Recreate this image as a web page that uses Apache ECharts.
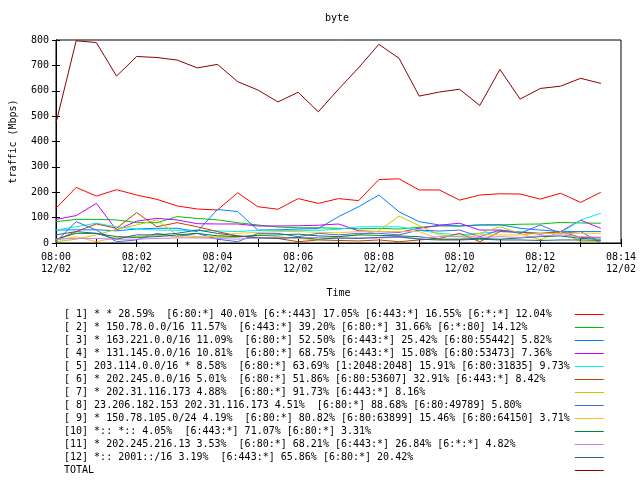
<!DOCTYPE html>
<html>
<head>
<meta charset="utf-8">
<script src="https://cdn.jsdelivr.net/npm/echarts@6/dist/echarts.min.js"></script>
<style>
  html, body { margin: 0; padding: 0; background: #fff; }
  #main { width: 640px; height: 480px; }
</style>
</head>
<body>
<div id="main"></div>
<script>
var FONT = 'DejaVu Sans Mono';

var times = ['08:00:00', '08:00:30', '08:01:00', '08:01:30', '08:02:00', '08:02:30', '08:03:00',
	'08:03:30', '08:04:00', '08:04:30', '08:05:00', '08:05:30', '08:06:00', '08:06:30',
	'08:07:00', '08:07:30', '08:08:00', '08:08:30', '08:09:00', '08:09:30', '08:10:00',
	'08:10:30', '08:11:00', '08:11:30', '08:12:00', '08:12:30', '08:13:00', '08:13:30'];

var names = [
	'[ 1] * * 28.59%  [6:80:*] 40.01% [6:*:443] 17.05% [6:443:*] 16.55% [6:*:*] 12.04%',
	'[ 2] * 150.78.0.0/16 11.57%  [6:443:*] 39.20% [6:80:*] 31.66% [6:*:80] 14.12%',
	'[ 3] * 163.221.0.0/16 11.09%  [6:80:*] 52.50% [6:443:*] 25.42% [6:80:55442] 5.82%',
	'[ 4] * 131.145.0.0/16 10.81%  [6:80:*] 68.75% [6:443:*] 15.08% [6:80:53473] 7.36%',
	'[ 5] 203.114.0.0/16 * 8.58%  [6:80:*] 63.69% [1:2048:2048] 15.91% [6:80:31835] 9.73%',
	'[ 6] * 202.245.0.0/16 5.01%  [6:80:*] 51.86% [6:80:53607] 32.91% [6:443:*] 8.42%',
	'[ 7] * 202.31.116.173 4.88%  [6:80:*] 91.73% [6:443:*] 8.16%',
	'[ 8] 23.206.182.153 202.31.116.173 4.51%  [6:80:*] 88.68% [6:80:49789] 5.80%',
	'[ 9] * 150.78.105.0/24 4.19%  [6:80:*] 80.82% [6:80:63899] 15.46% [6:80:64150] 3.71%',
	'[10] *:: *:: 4.05%  [6:443:*] 71.07% [6:80:*] 3.31%',
	'[11] * 202.245.216.13 3.53%  [6:80:*] 68.21% [6:443:*] 26.84% [6:*:*] 4.82%',
	'[12] *:: 2001::/16 3.19%  [6:443:*] 65.86% [6:80:*] 20.42%',
	'TOTAL'
];

var colors = ['#ff0000', '#00c000', '#0080ff', '#c000ff', '#00eeee', '#c04000', '#c8c800',
	'#4169e1', '#ffc020', '#008040', '#c080ff', '#306080', '#8b0000'];

// Mbps, one value per 30 s
var s1 = [137, 219, 185, 210, 189, 172, 146, 134, 130, 198, 143, 133, 175, 156, 175, 167, 250, 253, 209, 209, 169, 189, 194, 193, 173, 196, 160, 200];
var s2 = [84, 93, 93, 91, 80, 80, 104, 97, 91, 80, 71, 63, 60, 60, 58, 56, 58, 55, 62, 67, 67, 71, 71, 74, 75, 81, 79, 78];
var s3 = [51, 52, 52, 48, 55, 58, 58, 45, 132, 124, 51, 52, 55, 57, 104, 143, 189, 123, 84, 71, 67, 71, 72, 58, 51, 45, 45, 45];
var s4 = [93, 108, 156, 51, 86, 97, 91, 76, 75, 75, 67, 67, 68, 70, 75, 48, 45, 42, 58, 70, 78, 51, 51, 42, 35, 45, 90, 58];
var s5 = [51, 64, 78, 64, 55, 51, 50, 50, 48, 45, 50, 50, 50, 50, 54, 64, 64, 64, 50, 38, 32, 38, 45, 45, 38, 38, 91, 117];
var s6 = [12, 45, 75, 58, 120, 64, 80, 64, 45, 28, 22, 18, 5, 12, 10, 8, 12, 5, 12, 18, 38, 5, 45, 42, 38, 45, 22, 22];
var s7 = [5, 15, 32, 54, 71, 91, 32, 25, 22, 22, 32, 25, 18, 12, 25, 32, 48, 106, 68, 32, 25, 38, 64, 38, 12, 45, 5, 5];
var s8 = [5, 84, 51, 5, 12, 38, 25, 38, 15, 5, 38, 38, 25, 38, 32, 38, 38, 32, 51, 47, 51, 25, 51, 38, 71, 38, 45, 0];
var s9 = [12, 25, 5, 22, 25, 32, 25, 22, 28, 38, 42, 45, 45, 42, 40, 45, 45, 45, 45, 15, 15, 32, 32, 32, 38, 38, 38, 38];
var s10 = [15, 38, 38, 25, 22, 25, 32, 38, 28, 25, 30, 32, 35, 28, 25, 32, 30, 28, 25, 15, 15, 18, 15, 20, 25, 28, 18, 15];
var s11 = [15, 18, 18, 15, 15, 18, 20, 20, 18, 15, 20, 22, 20, 22, 18, 20, 20, 22, 18, 25, 25, 22, 25, 22, 28, 32, 25, 22];
var s12 = [32, 45, 38, 15, 32, 32, 38, 51, 38, 28, 20, 18, 22, 15, 20, 18, 22, 25, 15, 12, 12, 15, 12, 12, 10, 12, 12, 10];
var total = [473, 797, 790, 658, 735, 731, 721, 690, 704, 636, 603, 556, 594, 517, 606, 691, 783, 728, 579, 595, 606, 542, 684, 567, 609, 618, 649, 629];

var yTicks = [0, 100, 200, 300, 400, 500, 600, 700, 800];

var allData = [s1, s2, s3, s4, s5, s6, s7, s8, s9, s10, s11, s12, total];

// minutes after 08:00
function toMin(t) {
	var p = t.split(':');
	return (+p[0] - 8) * 60 + (+p[1]) + (+p[2]) / 60;
}

var series = [];
for (var i = 0; i < allData.length; i++) {
	var pts = [];
	for (var j = 0; j < times.length; j++) {
		pts.push([toMin(times[j]), allData[i][j]]);
	}
	series.push({
		name: names[i],
		type: 'line',
		data: pts,
		symbol: 'none',
		lineStyle: { width: 1, color: colors[i] },
		itemStyle: { color: colors[i] },
		xAxisIndex: 0,
		yAxisIndex: 0
	});
}

var tickStyle = { show: true, inside: true, length: 4, lineStyle: { color: '#000' } };

var option = {
	animation: false,
	color: colors,
	title: {
		text: 'byte',
		left: 325,
		top: 13,
		padding: 0,
		textStyle: { fontFamily: FONT, fontSize: 10, fontWeight: 'normal', color: '#000' }
	},
	grid: {
		left: 53, top: 40, width: 568, height: 203,
		show: true, borderColor: '#000', borderWidth: 1,
		containLabel: false
	},
	legend: {
		orient: 'vertical',
		left: 64,
		top: 308,
		height: 172,
		padding: 0,
		align: 'right',
		itemGap: 0,
		itemWidth: 29,
		itemHeight: 1,
		icon: 'rect',
		selectedMode: false,
		formatter: function (name) { return name.padEnd(84); },
		textStyle: { fontFamily: FONT, fontSize: 10, color: '#000', lineHeight: 13 },
		data: names
	},
	xAxis: [{
		type: 'value',
		min: 0,
		max: 14,
		interval: 1,
		name: 'Time',
		nameLocation: 'middle',
		nameGap: 45,
		nameTextStyle: { fontFamily: FONT, fontSize: 10, color: '#000' },
		axisLine: { show: true, lineStyle: { color: '#000' } },
		axisTick: tickStyle,
		splitLine: { show: false },
		axisLabel: {
			margin: 8,
			fontFamily: FONT,
			fontSize: 10,
			color: '#000',
			lineHeight: 12,
			formatter: function (v) {
				if (v % 2 !== 0) return '';
				return '08:' + (v < 10 ? '0' + v : v) + '\n12/02';
			}
		}
	}, {
		type: 'value',
		position: 'top',
		min: 0,
		max: 14,
		interval: 1,
		axisLine: { show: true, lineStyle: { color: '#000' } },
		axisTick: tickStyle,
		axisLabel: { show: false },
		splitLine: { show: false }
	}],
	yAxis: [{
		type: 'value',
		min: yTicks[0],
		max: yTicks[yTicks.length - 1],
		interval: 100,
		name: 'traffic (Mbps)',
		nameLocation: 'middle',
		nameGap: 38,
		nameTextStyle: { fontFamily: FONT, fontSize: 10, color: '#000' },
		axisLine: { show: true, lineStyle: { color: '#000' } },
		axisTick: tickStyle,
		splitLine: { show: false },
		axisLabel: { margin: 7, fontFamily: FONT, fontSize: 10, color: '#000' }
	}, {
		type: 'value',
		position: 'right',
		min: yTicks[0],
		max: yTicks[yTicks.length - 1],
		interval: 100,
		axisLine: { show: true, lineStyle: { color: '#000' } },
		axisTick: tickStyle,
		axisLabel: { show: false },
		splitLine: { show: false }
	}],
	series: series
};

echarts.init(document.getElementById('main'), null, { renderer: 'canvas' }).setOption(option);
</script>
</body>
</html>
